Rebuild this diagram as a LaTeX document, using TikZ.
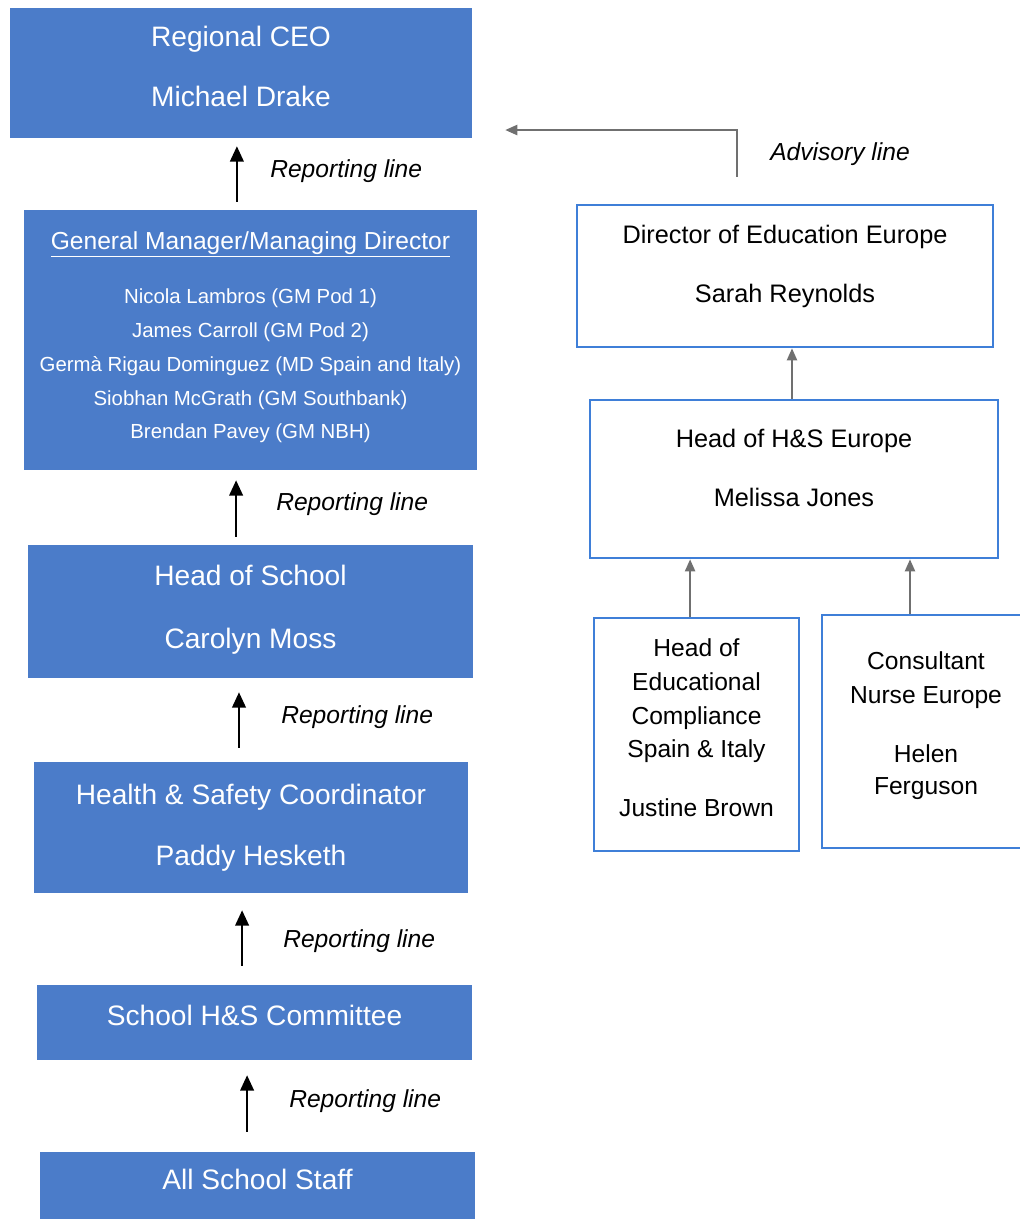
\documentclass[tikz,border=0pt]{standalone}
\usepackage{fontspec}
\setmainfont{Liberation Sans}
\usetikzlibrary{arrows.meta, positioning, calc}
\definecolor{azulcaja}{HTML}{4B7CC9}
\definecolor{azulborde}{HTML}{3F7FD8}
\definecolor{grisflecha}{HTML}{707070}
\colorlet{colCaja}{azulcaja}
\colorlet{colBorde}{azulborde}
\colorlet{colAsesor}{grisflecha}
% strut that only adds depth (moves the text up inside a box)
\newcommand{\hueco}[1]{\rule[-#1]{0pt}{#1}}
\tikzset{
  cajaBase/.style={rectangle, align=center, inner sep=0pt},
  cajaAzul/.style={cajaBase, fill=colCaja, text=white,
    font=\fontsize{20}{24}\selectfont},
  cajaBlanca/.style={cajaBase, fill=white, draw=colBorde, line width=2pt,
    text=black, font=\fontsize{17.5}{21}\selectfont},
  flecha/.style={-{Triangle[length=0.38cm, width=0.34cm]}, line width=1.3pt, black},
  flechaGris/.style={-{Triangle[length=0.3cm, width=0.26cm]}, line width=0.9pt, colAsesor},
  etiquetaLinea/.style={font=\fontsize{17.5}{21}\selectfont\itshape, anchor=west, inner sep=0pt},
}

\begin{document}
\begin{tikzpicture}[x=0.025cm, y=-0.025cm]
  \useasboundingbox (0,0) rectangle (1020,1219);

  % line management (left column)
  \node[cajaAzul, minimum width=11.55cm, minimum height=3.25cm] (ceo) at (241,73)
    {Regional CEO\\[18.7pt]Michael Drake\hueco{10pt}};
  \node[cajaAzul, minimum width=11.325cm, minimum height=6.5cm,
        font=\fontsize{14.5}{17.4}\selectfont] (gm) at (250.5,340)
    {{\fontsize{17.5}{21}\selectfont\underline{General Manager/Managing Director}}\\[21.6pt]
     Nicola Lambros (GM Pod 1)\\[6.6pt]
     James Carroll (GM Pod 2)\\[6.6pt]
     Germà Rigau Dominguez (MD Spain and Italy)\\[6.6pt]
     Siobhan McGrath (GM Southbank)\\[6.6pt]
     Brendan Pavey (GM NBH)\hueco{7pt}};
  \node[cajaAzul, minimum width=11.125cm, minimum height=3.325cm] (hos) at (250.5,611.5)
    {Head of School\\[20.8pt]Carolyn Moss\hueco{6.4pt}};
  \node[cajaAzul, minimum width=10.85cm, minimum height=3.275cm] (hsc) at (251,827.5)
    {Health \& Safety Coordinator\\[19.4pt]Paddy Hesketh\hueco{3.5pt}};
  \node[cajaAzul, minimum width=10.875cm, minimum height=1.875cm] (com) at (254.5,1022.5)
    {School H\&S Committee\hueco{10.7pt}};
  \node[cajaAzul, minimum width=10.875cm, minimum height=2.2cm] (staff) at (257.5,1196)
    {All School Staff\hueco{24pt}};

  \draw[flecha, shorten <=0.2cm, shorten >=0.2cm]
    ([xshift=-0.34cm]gm.north) -- ([xshift=-0.34cm]gm.north |- ceo.south);
  \draw[flecha, shorten <=0.2cm, shorten >=0.25cm]
    ([xshift=-0.36cm]hos.north) -- ([xshift=-0.36cm]hos.north |- gm.south);
  \draw[flecha, shorten <=0.35cm, shorten >=0.35cm]
    ([xshift=-0.3cm]hsc.north) -- ([xshift=-0.3cm]hsc.north |- hos.south);
  \draw[flecha, shorten <=0.475cm, shorten >=0.425cm]
    ([xshift=-0.31cm]com.north) -- ([xshift=-0.31cm]com.north |- hsc.south);
  \draw[flecha, shorten <=0.5cm, shorten >=0.375cm]
    ([xshift=-0.26cm]staff.north) -- ([xshift=-0.26cm]staff.north |- com.south);

  \node[etiquetaLinea] (rl1) at (270,171) {Reporting line};
  \node[etiquetaLinea] (rl2) at (276,504) {Reporting line};
  \node[etiquetaLinea] (rl3) at (281,717) {Reporting line};
  \node[etiquetaLinea] (rl4) at (283,941) {Reporting line};
  \node[etiquetaLinea] (rl5) at (289,1101) {Reporting line};

  % advisory side (right column)
  \node[cajaBlanca, minimum width=10.4cm, minimum height=3.55cm,
        font=\fontsize{18}{21.6}\selectfont] (dir) at (785,276)
    {Director of Education Europe\\[20.4pt]Sarah Reynolds\hueco{17pt}};
  \node[cajaBlanca, minimum width=10.2cm, minimum height=3.95cm,
        font=\fontsize{18}{21.6}\selectfont] (hhs) at (794,479)
    {Head of H\&S Europe\\[20.4pt]Melissa Jones\hueco{16.4pt}};
  \node[cajaBlanca, minimum width=5.125cm, minimum height=5.825cm] (hec) at (696.5,734.5)
    {Head of\\[3pt]Educational\\[3pt]Compliance\\[3pt]Spain \& Italy\\[20.3pt]Justine Brown\hueco{10pt}};
  \node[cajaBlanca, minimum width=5.2cm, minimum height=5.825cm] (cne) at (926,731.5)
    {Consultant\\[3.2pt]Nurse Europe\\[21pt]Helen\\[1.8pt]Ferguson\hueco{12pt}};

  \draw[flechaGris, shorten <=0.675cm, shorten >=0.825cm]
    ([xshift=-1.2cm]dir.north) |- ([yshift=-1.425cm]ceo.east);
  \node[etiquetaLinea] (adv) at (770,154) {Advisory line};

  \draw[flechaGris] ([xshift=-0.05cm]hhs.north) -- ([xshift=-0.05cm]hhs.north |- dir.south);
  \draw[flechaGris] ([xshift=-0.16cm]hec.north) -- ([xshift=-0.16cm]hec.north |- hhs.south);
  \draw[flechaGris] ([xshift=-0.4cm]cne.north) -- ([xshift=-0.4cm]cne.north |- hhs.south);
\end{tikzpicture}
\end{document}
